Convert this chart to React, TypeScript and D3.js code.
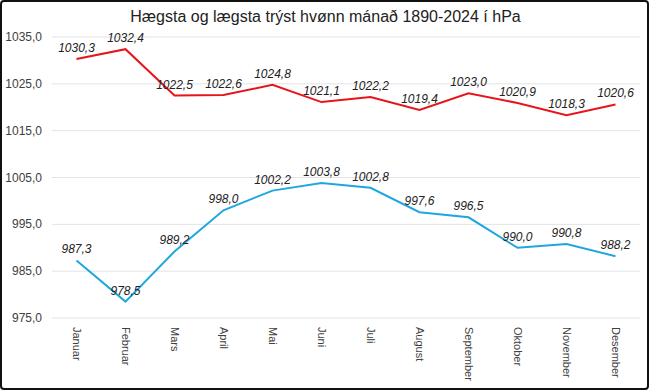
import React, { useRef, useEffect } from 'react';
import * as d3 from 'd3';

const months = ['Januar', 'Februar', 'Mars', 'April', 'Mai', 'Juni', 'Juli', 'August', 'September', 'Oktober', 'November', 'Desember'];
const highest = [1030.3, 1032.4, 1022.5, 1022.6, 1024.8, 1021.1, 1022.2, 1019.4, 1023.0, 1020.9, 1018.3, 1020.6];
const lowest = [987.3, 978.5, 989.2, 998.0, 1002.2, 1003.8, 1002.8, 997.6, 996.5, 990.0, 990.8, 988.2];
const yTicks = [975, 985, 995, 1005, 1015, 1025, 1035];

const series = [
  { name: 'Hægsta', values: highest, color: '#e8141c' },
  { name: 'Lægsta', values: lowest, color: '#1ea7de' },
];

const fmt = (v: number) => v.toFixed(1).replace('.', ',');

const App: React.FC = () => {
  const svgRef = useRef<SVGSVGElement | null>(null);

  useEffect(() => {
    if (!svgRef.current) return;
    const width = 649;
    const height = 390;
    const margin = { top: 37, right: 9, bottom: 72, left: 52 };
    const font = '"Liberation Sans", Arial, sans-serif';

    const svg = d3.select(svgRef.current);
    svg.selectAll('*').remove();
    svg.attr('width', width).attr('height', height);

    svg.append('rect')
      .attr('x', 1).attr('y', 1)
      .attr('width', width - 2).attr('height', height - 2)
      .attr('rx', 3)
      .attr('fill', '#fff')
      .attr('stroke', '#111')
      .attr('stroke-width', 2);

    svg.append('text')
      .attr('x', width / 2 + 1)
      .attr('y', 22)
      .attr('text-anchor', 'middle')
      .style('font-family', font)
      .style('font-size', '16px')
      .style('fill', '#222')
      .text('Hægsta og lægsta trýst hvønn mánað 1890-2024 í hPa');

    const x = d3.scaleBand()
      .domain(months)
      .range([margin.left, width - margin.right]);

    const y = d3.scaleLinear()
      .domain([975, 1035])
      .range([height - margin.bottom, margin.top]);

    // Grid
    svg.append('g')
      .selectAll('line')
      .data(yTicks)
      .join('line')
      .attr('x1', margin.left)
      .attr('x2', width - margin.right)
      .attr('y1', d => y(d))
      .attr('y2', d => y(d))
      .attr('stroke', '#e3e3e3')
      .attr('stroke-width', 1);

    // Y labels
    svg.append('g')
      .selectAll('text')
      .data(yTicks)
      .join('text')
      .attr('x', 42)
      .attr('y', d => y(d) + 4)
      .attr('text-anchor', 'end')
      .style('font-family', font)
      .style('font-size', '12px')
      .style('fill', '#404040')
      .text(d => fmt(d));

    // X labels
    svg.append('g')
      .selectAll('text')
      .data(months)
      .join('text')
      .attr('transform', d => `translate(${x(d)! + x.bandwidth() / 2 - 4},${height - margin.bottom + 9}) rotate(90)`)
      .attr('text-anchor', 'start')
      .style('font-family', font)
      .style('font-size', '11px')
      .style('fill', '#404040')
      .text(d => d);

    const line = d3.line<number>()
      .x((_, i) => x(months[i])! + x.bandwidth() / 2)
      .y(d => y(d));

    series.forEach(s => {
      svg.append('path')
        .datum(s.values)
        .attr('d', line)
        .attr('fill', 'none')
        .attr('stroke', s.color)
        .attr('stroke-width', 2);

      svg.append('g')
        .selectAll('text')
        .data(s.values)
        .join('text')
        .attr('x', (_, i) => x(months[i])! + x.bandwidth() / 2)
        .attr('y', d => y(d) - 7)
        .attr('text-anchor', 'middle')
        .style('font-family', font)
        .style('font-size', '12px')
        .style('font-style', 'italic')
        .style('fill', '#222')
        .text(d => fmt(d));
    });
  }, []);

  return <svg ref={svgRef} style={{ position: 'absolute', left: 0, top: 0 }}></svg>;
};

export default App;
